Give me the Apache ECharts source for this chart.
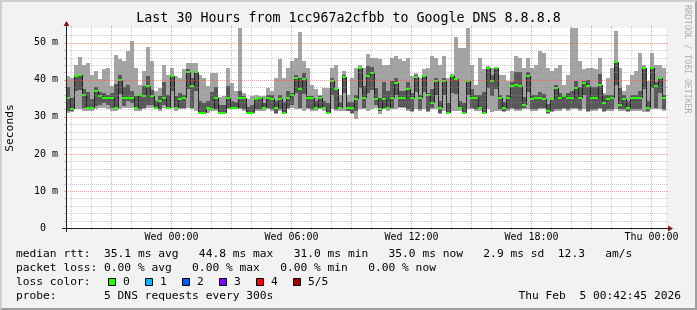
<!DOCTYPE html>
<html><head><meta charset="utf-8">
<script src="https://cdn.jsdelivr.net/npm/echarts@6/dist/echarts.min.js"></script>
<style>html,body{margin:0;padding:0;background:#f2f2f2;}#c{width:697px;height:310px;}</style>
</head><body><div id="c"></div>
<script>
// ---- data (ms), one entry per 12-minute step, 30 hours ----
const stepMinutes = 12;
const startTime = Date.UTC(2026, 1, 3, 18, 45, 0);
const endTime = Date.UTC(2026, 1, 5, 0, 45, 0);
const yMax = 54;

const ping1 = [
31.1,31.3,32.0,32.0,31.5,31.5,31.5,32.0,32.4,32.4,
32.0,31.5,31.5,32.0,32.4,32.4,32.4,31.5,31.5,32.0,
32.4,32.4,32.0,31.5,32.4,32.0,32.4,31.5,32.0,32.0,
32.4,32.0,31.5,30.8,30.8,31.1,31.5,31.5,30.8,30.8,
32.0,32.0,32.0,32.0,31.5,30.8,30.8,31.5,31.7,31.7,
32.0,31.7,30.8,31.5,30.8,32.0,32.4,32.0,32.0,31.7,
32.0,31.5,31.5,32.0,31.7,30.8,32.0,31.7,31.7,31.7,
31.5,30.8,29.3,32.0,32.0,31.5,32.0,32.4,30.8,32.0,
31.7,32.0,32.0,32.4,32.4,31.5,31.3,32.0,31.7,32.0,
31.3,32.0,32.0,30.8,31.7,30.8,31.7,31.7,31.5,30.8,
32.0,32.0,31.7,31.7,30.8,32.0,31.3,31.7,31.7,31.3,
31.7,32.0,31.5,31.7,32.0,32.0,31.7,31.7,32.0,32.0,
30.8,31.3,31.7,31.7,32.0,31.7,32.0,32.0,31.7,32.0,
31.3,31.7,31.7,32.0,31.3,31.7,31.7,32.0,31.7,31.7,
31.3,31.7,31.7,31.7,31.3,31.3,32.0,32.0,32.0,31.7];
const ping2 = [
31.5,31.7,36.9,37.3,32.4,32.2,32.0,32.9,33.3,33.8,
33.3,32.4,32.0,36.2,32.9,34.2,33.8,32.2,32.0,32.4,
33.3,33.3,32.2,32.0,33.3,32.2,37.0,32.0,32.4,32.4,
37.5,32.4,37.0,31.0,31.0,32.0,31.8,32.0,31.0,31.0,
32.4,32.2,32.2,32.4,32.0,31.0,31.0,32.0,32.0,32.0,
32.4,32.0,31.1,32.0,31.0,32.4,33.3,36.5,32.4,36.1,
32.4,32.0,32.0,32.4,32.0,31.0,36.0,32.0,32.0,36.4,
31.7,31.1,31.5,37.8,32.4,36.5,37.2,33.3,31.5,32.4,
32.0,32.4,35.8,32.6,32.6,32.0,31.5,36.6,32.0,36.7,
31.5,32.4,36.0,31.1,35.8,31.0,36.5,36.1,32.0,31.0,
36.0,32.4,32.0,32.2,31.0,37.8,35.6,37.6,32.0,31.5,
32.0,32.4,32.0,32.0,32.4,36.7,32.0,32.0,32.4,32.4,
31.1,31.5,32.0,32.0,32.4,32.0,32.4,32.4,32.0,35.8,
31.5,32.0,32.0,32.4,31.5,32.0,32.0,38.6,32.0,32.0,
31.5,32.0,32.0,32.0,37.4,31.5,37.8,32.4,36.5,32.0];
const median = [
35.1,32.0,41.0,41.2,36.0,32.4,32.4,36.9,35.6,35.1,
35.1,35.1,32.4,39.9,35.1,35.1,35.1,32.4,36.0,35.6,
38.3,35.6,32.4,34.2,35.1,32.4,41.0,32.4,34.7,35.1,
42.0,38.3,42.0,31.1,31.1,32.4,32.0,35.1,31.1,31.1,
35.1,32.4,32.4,35.1,35.1,31.1,31.1,34.7,35.1,32.4,
35.1,34.7,32.4,34.7,31.1,35.1,36.0,40.5,37.4,40.1,
35.1,35.1,32.4,35.1,32.4,31.1,39.6,37.4,32.4,40.8,
32.4,32.4,34.7,43.2,35.1,41.0,41.9,34.7,32.0,34.7,
32.4,35.1,39.2,35.1,35.1,37.4,35.1,40.7,35.1,41.0,
36.0,33.8,39.6,32.4,39.6,31.1,41.0,40.1,32.4,31.1,
39.6,35.1,35.1,32.4,31.1,43.2,39.6,43.2,35.1,32.4,
35.1,38.3,38.7,38.3,33.3,41.0,34.7,35.1,35.1,34.7,
31.5,34.7,37.8,35.1,35.6,35.1,35.1,37.8,35.1,39.2,
38.3,35.1,35.1,38.7,33.8,34.7,35.1,44.8,33.3,34.7,
32.4,35.1,35.1,35.1,43.2,32.4,43.2,38.3,40.5,35.0];
const ping4 = [
38.2,35.2,41.4,41.4,37.5,36.6,34.9,38.2,36.8,36.5,
36.0,36.5,38.8,41.2,38.1,38.6,37.1,35.6,36.3,38.3,
41.0,37.3,34.4,35.6,39.3,35.9,41.4,35.6,36.5,36.0,
42.8,40.5,42.3,34.3,33.8,34.4,36.7,38.1,33.3,33.2,
38.3,34.4,33.9,36.9,35.6,32.8,33.1,35.1,35.3,33.7,
36.0,36.0,34.4,36.0,34.1,36.9,36.5,41.4,40.6,41.8,
35.6,35.6,34.4,35.6,34.4,33.8,40.5,37.6,33.9,41.4,
33.9,33.9,36.0,43.4,38.3,43.7,43.6,37.9,35.2,39.4,
36.9,39.6,40.5,36.9,36.9,39.4,36.5,41.4,36.0,41.4,
36.5,37.5,40.5,34.4,40.5,33.8,41.4,40.3,34.4,33.8,
39.8,37.4,36.0,35.9,36.8,43.4,41.4,43.4,36.0,33.9,
36.0,39.5,42.2,42.0,35.3,42.2,36.0,36.0,36.6,36.2,
33.5,35.1,38.7,36.5,36.0,36.5,36.9,39.6,38.1,39.6,
40.0,38.1,38.1,41.7,36.0,36.0,36.0,45.2,37.8,36.0,
34.4,36.0,36.0,36.9,43.4,34.4,43.4,39.5,40.7,36.0];
const ping5 = [
41.0,40.5,44.1,46.1,44.1,44.6,41.4,42.3,40.1,42.8,
43.2,38.3,46.8,45.5,45.0,47.7,50.4,43.2,38.7,42.3,
49.0,45.0,36.9,37.8,44.1,41.4,43.2,41.0,40.5,42.8,
44.6,44.6,44.6,41.4,40.5,38.3,41.9,41.9,35.4,35.6,
43.2,39.2,36.9,54.0,36.5,34.7,35.6,36.0,35.6,35.6,
37.8,36.9,40.5,45.5,40.5,43.2,45.0,45.9,52.9,45.0,
43.2,38.7,37.4,36.0,37.8,37.8,43.2,44.1,36.0,42.3,
36.0,40.5,43.2,44.1,43.2,47.0,45.9,45.9,45.5,44.1,
44.1,45.9,46.4,45.5,45.0,45.9,41.0,41.9,40.5,42.8,
43.2,46.4,45.9,44.1,46.4,40.5,41.6,51.7,48.6,48.6,
54.0,44.1,38.7,45.9,42.8,43.7,43.2,43.6,41.4,41.4,
39.6,42.3,46.4,45.9,43.2,45.9,43.2,44.1,47.7,47.3,
43.2,42.3,43.2,44.1,38.7,41.4,54.0,54.0,45.0,42.8,
43.2,43.2,42.8,45.9,36.5,40.5,43.2,53.1,43.2,36.9,
38.7,41.4,42.3,47.3,44.1,39.6,47.3,44.1,44.1,43.2];

const xTickLabels = ['Wed 00:00', 'Wed 06:00', 'Wed 12:00', 'Wed 18:00', 'Thu 00:00'];
const xTickTimes = [Date.UTC(2026,1,4,0), Date.UTC(2026,1,4,6), Date.UTC(2026,1,4,12), Date.UTC(2026,1,4,18), Date.UTC(2026,1,5,0)];
const yTickValues = [0, 10, 20, 30, 40, 50];
const lossLabels = ['0', '1', '2', '3', '4', '5/5'];
const lossColors = ['#26ff00', '#00b8ff', '#0059ff', '#7e00ff', '#ff0000', '#a10000'];
const titleText = 'Last 30 Hours from 1cc967a2cfbb to Google DNS 8.8.8.8';
const legendRtt = 'median rtt:  35.1 ms avg   44.8 ms max   31.0 ms min   35.0 ms now   2.9 ms sd  12.3   am/s';
const legendLoss = 'packet loss: 0.00 % avg   0.00 % max   0.00 % min   0.00 % now';
const legendColor = 'loss color:';
const legendProbe = 'probe:       5 DNS requests every 300s';
const stampText = 'Thu Feb  5 00:42:45 2026';

// ---- layout / style ----
const L = 66, T = 28, W = 600, H = 200;
const FONT = 'DejaVu Sans Mono';
const GRID = 'rgba(143,143,143,0.45)';
const MGRID = 'rgba(222,79,79,0.5)';
const STEP = stepMinutes * 60000;

const smokeData = median.map((m, i) => [startTime + i * STEP, ping1[i], ping2[i], m, ping4[i], ping5[i]]);
const medData = median.map((m, i) => [startTime + i * STEP, m]);
const vGrid = [];
for (let t = Date.UTC(2026,1,3,19); t < endTime; t += 3600000) vGrid.push([t, 0, new Date(t).getUTCHours() % 3 === 0 ? 1 : 0]);
const hGrid = [];
for (let v = 2; v < yMax; v += 2) hGrid.push([startTime, v, v % 10 === 0 ? 1 : 0]);
const xLabData = xTickTimes.map((t, i) => [t, 0, i]);

const chart = echarts.init(document.getElementById('c'), null, {width: 697, height: 310});

const graphics = [
  {type:'polygon', shape:{points:[[0,310],[2,308],[2,2],[695,2],[697,0],[0,0]]}, style:{fill:'#cfcfcf'}},
  {type:'polygon', shape:{points:[[2,308],[695,308],[695,2],[697,0],[697,310],[0,310]]}, style:{fill:'#9e9e9e'}},
  {type:'text', x:348.5, y:18.6, style:{text:titleText, fontFamily:FONT, fontSize:13.3, fill:'#000', align:'center', verticalAlign:'middle'}},
  {type:'text', x:10.5, y:128, rotation:Math.PI/2, style:{text:'Seconds', fontFamily:FONT, fontSize:11.25, fill:'#000', align:'center', verticalAlign:'middle'}},
  {type:'text', x:687.5, y:5, rotation:-Math.PI/2, style:{text:'RRDTOOL / TOBI OETIKER', fontFamily:FONT, fontSize:8.2, fill:'rgba(0,0,0,0.3)', align:'left', verticalAlign:'middle'}},
  {type:'text', x:16, y:254.4, style:{text:legendRtt, fontFamily:FONT, fontSize:11.25, fill:'#000', align:'left', verticalAlign:'middle'}},
  {type:'text', x:16, y:268.4, style:{text:legendLoss, fontFamily:FONT, fontSize:11.25, fill:'#000', align:'left', verticalAlign:'middle'}},
  {type:'text', x:16, y:282.4, style:{text:legendColor, fontFamily:FONT, fontSize:11.25, fill:'#000', align:'left', verticalAlign:'middle'}},
  {type:'text', x:16, y:296.3, style:{text:legendProbe, fontFamily:FONT, fontSize:11.25, fill:'#000', align:'left', verticalAlign:'middle'}},
  {type:'text', x:681, y:296.3, style:{text:stampText, fontFamily:FONT, fontSize:11.25, fill:'#000', align:'right', verticalAlign:'middle'}},
  // axes
  {type:'line', z:100, shape:{x1:L-4, y1:T+H+0.5, x2:L+W+4, y2:T+H+0.5}, style:{stroke:'#1f1f1f', lineWidth:1}},
  {type:'line', z:100, shape:{x1:L+0.5, y1:T+H+4, x2:L+0.5, y2:T-4}, style:{stroke:'#1f1f1f', lineWidth:1}},
  {type:'polygon', z:100, shape:{points:[[L+W+2,T+H-2.5],[L+W+2,T+H+3.5],[L+W+7,T+H+0.5]]}, style:{fill:'#801f1f'}},
  {type:'polygon', z:100, shape:{points:[[L-2.5,T-2],[L+3.5,T-2],[L+0.5,T-7]]}, style:{fill:'#801f1f'}}
];
lossLabels.forEach((lab, k) => {
  graphics.push({type:'rect', shape:{x:108.5+37*k, y:278.5, width:7, height:7}, style:{fill:lossColors[k], stroke:'#000', lineWidth:1}});
  graphics.push({type:'text', x:123+37*k, y:282.4, style:{text:lab, fontFamily:FONT, fontSize:11.25, fill:'#000', align:'left', verticalAlign:'middle'}});
});

chart.setOption({
  animation: false,
  backgroundColor: '#f2f2f2',
  grid: {left: L, top: T, width: W, height: H, show: true, backgroundColor: '#ffffff', borderWidth: 0, containLabel: false},
  xAxis: {type: 'time', min: startTime, max: endTime, axisLine:{show:false}, axisTick:{show:false}, axisLabel:{show:false}, splitLine:{show:false}},
  yAxis: {type: 'value', min: 0, max: yMax, interval: 10,
    axisLine:{show:false}, axisTick:{show:false}, splitLine:{show:false},
    axisLabel:{margin: 8, fontFamily: FONT, fontSize: 10, color: '#000',
      formatter: v => yTickValues.indexOf(v) < 0 ? '' : (v === 0 ? '0  ' : v + ' m')}},
  graphic: {elements: graphics},
  series: [
    { // smoke
      type: 'custom', silent: true, z: 2, data: smokeData, encode: {x: 0, y: 1},
      renderItem: (p, api) => {
        const t = api.value(0);
        const lo = api.coord([t, api.value(1)]), hi = api.coord([t + STEP, api.value(5)]);
        const d2 = api.coord([t, api.value(2)]), d4 = api.coord([t, api.value(4)]);
        const x0 = Math.round(lo[0]), x1 = Math.round(hi[0]);
        const yl = Math.round(lo[1]), yh = Math.round(hi[1]);
        const y2 = Math.round(d2[1]), y4 = Math.round(d4[1]);
        return {type:'group', children:[
          {type:'rect', shape:{x:x0, y:yh, width:x1-x0, height:yl-yh}, style:{fill:'#a4a4a4'}},
          {type:'rect', shape:{x:x0, y:y4, width:x1-x0, height:y2-y4}, style:{fill:'#585858'}}
        ]};
      }
    },
    { // median: dark connecting line + loss coloured mark
      type: 'custom', silent: true, z: 3, data: medData, encode: {x: 0, y: 1},
      renderItem: (p, api) => {
        const i = p.dataIndex;
        const t = api.value(0), m = api.value(1);
        const a = api.coord([t, m]), b = api.coord([t + STEP, m]);
        const x0 = Math.round(a[0]), x1 = Math.round(b[0]), y = Math.round(a[1]);
        const ch = [];
        if (i > 0) {
          const yp = Math.round(api.coord([t, median[i - 1]])[1]);
          ch.push({type:'line', shape:{x1:x0+0.5, y1:yp, x2:x0+0.5, y2:y}, style:{stroke:'#202020', lineWidth:1}});
        }
        ch.push({type:'rect', shape:{x:x0, y:y-1, width:x1-x0, height:2}, style:{fill:lossColors[0]}});
        return {type:'group', children: ch};
      }
    },
    { // vertical grid
      type: 'custom', silent: true, z: 5, data: vGrid, encode: {x: 0, y: 1},
      renderItem: (p, api) => {
        const t = api.value(0), major = api.value(2);
        const top = api.coord([t, yMax]), bot = api.coord([t, 0]);
        const x = Math.round(top[0]) + 0.5, yt = Math.round(top[1]), yb = Math.round(bot[1]);
        const col = major ? MGRID : GRID;
        return {type:'group', children:[
          {type:'line', shape:{x1:x, y1:yb, x2:x, y2:yt}, style:{stroke:col, lineWidth:1, lineDash:[1,1]}},
          {type:'line', shape:{x1:x, y1:yb, x2:x, y2:yb+2}, style:{stroke:col, lineWidth:1}},
          {type:'line', shape:{x1:x, y1:yt-2, x2:x, y2:yt}, style:{stroke:col, lineWidth:1}}
        ]};
      }
    },
    { // horizontal grid
      type: 'custom', silent: true, z: 5, data: hGrid, encode: {x: 0, y: 1},
      renderItem: (p, api) => {
        const v = api.value(1), major = api.value(2);
        const a = api.coord([startTime, v]), b = api.coord([endTime, v]);
        const y = Math.round(a[1]) + 0.5, xa = Math.round(a[0]), xb = Math.round(b[0]);
        const col = major ? MGRID : GRID;
        return {type:'group', children:[
          {type:'line', shape:{x1:xa, y1:y, x2:xb, y2:y}, style:{stroke:col, lineWidth:1, lineDash:[1,1]}},
          {type:'line', shape:{x1:xa-2, y1:y, x2:xa, y2:y}, style:{stroke:col, lineWidth:1}},
          {type:'line', shape:{x1:xb, y1:y, x2:xb+2, y2:y}, style:{stroke:col, lineWidth:1}}
        ]};
      }
    },
    { // x tick labels
      type: 'custom', silent: true, z: 6, data: xLabData, encode: {x: 0, y: 1},
      renderItem: (p, api) => {
        const c = api.coord([api.value(0), 0]);
        return {type:'text', x: Math.round(c[0]) + 0.5, y: c[1] + 9.7,
          style:{text: xTickLabels[api.value(2)], fontFamily: FONT, fontSize: 10, fill:'#000', align:'center', verticalAlign:'middle'}};
      }
    }
  ]
});
</script>
</body></html>
